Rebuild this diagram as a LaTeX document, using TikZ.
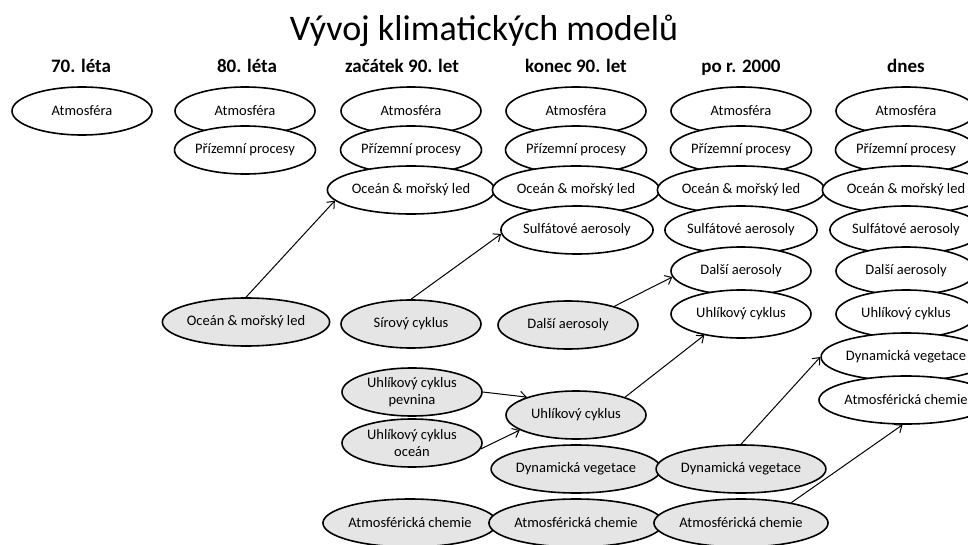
\documentclass[tikz,border=0pt]{standalone}
\usepackage{fontspec}
\setmainfont{Carlito}
\usetikzlibrary{shapes.geometric,arrows.meta}

\begin{document}
\begin{tikzpicture}[x=1pt, y=-1pt,
	model/.style={ellipse, draw, line width=1.6pt, fill=white, minimum width=140pt, minimum height=48pt, inner sep=0pt, align=center, font=\fontsize{14.5}{16.5}\selectfont},
	added/.style={model, fill=black!10},
	era/.style={anchor=base, font=\fontsize{19}{21}\selectfont\bfseries},
	>={Straight Barb[length=6pt,width=10pt]}]
	\clip (0, 0) rectangle (968, 545);

	\node (title) at (484, 31) {\fontsize{36}{40}\selectfont Vývoj klimatických modelů};

	% decades
	\node[era] (h1) at (81, 73) {70. léta};
	\node[era] (h2) at (247, 73) {80. léta};
	\node[era] (h3) at (402, 73) {začátek 90. let};
	\node[era] (h4) at (576, 73) {konec 90. let};
	\node[era] (h5) at (741, 73) {po r. 2000};
	\node[era] (h6) at (906, 73) {dnes};

	% 70. leta
	\node[model] (atm1) at (82, 111) {Atmosféra};

	% 80. leta
	\node[model] (atm2) at (245, 111) {Atmosféra};
	\node[model] (pri2) at (245, 150) {Přízemní procesy};
	\node[added] (oce2) at (246, 322) {Oceán \& mořský led};

	% zacatek 90. let
	\node[model] (atm3) at (411, 111) {Atmosféra};
	\node[model] (pri3) at (411, 150) {Přízemní procesy};
	\node[model] (oce3) at (411, 190) {Oceán \& mořský led};
	\node[added] (sir3) at (411, 324) {Sírový cyklus};
	\node[added] (uhp3) at (412, 392) {Uhlíkový cyklus\\pevnina};
	\node[added] (uho3) at (412, 443) {Uhlíkový cyklus\\oceán};
	\node[added] (che3) at (410, 523) {Atmosférická chemie};

	% konec 90. let
	\node[model] (atm4) at (576, 111) {Atmosféra};
	\node[model] (pri4) at (576, 150) {Přízemní procesy};
	\node[model] (oce4) at (576, 190) {Oceán \& mořský led};
	\node[model] (sul4) at (577, 230) {Sulfátové aerosoly};
	\node[added] (dal4) at (568, 325) {Další aerosoly};
	\node[added] (uhl4) at (576, 415) {Uhlíkový cyklus};
	\node[added] (dyn4) at (576, 469) {Dynamická vegetace};
	\node[added] (che4) at (576, 523) {Atmosférická chemie};

	% po r. 2000
	\node[model] (atm5) at (741, 111) {Atmosféra};
	\node[model] (pri5) at (741, 150) {Přízemní procesy};
	\node[model] (oce5) at (741, 190) {Oceán \& mořský led};
	\node[model] (sul5) at (741, 230) {Sulfátové aerosoly};
	\node[model] (dal5) at (741, 271) {Další aerosoly};
	\node[model] (uhl5) at (741, 314) {Uhlíkový cyklus};
	\node[added] (dyn5) at (741, 469) {Dynamická vegetace};
	\node[added] (che5) at (741, 523) {Atmosférická chemie};

	% dnes
	\node[model] (atm6) at (906, 111) {Atmosféra};
	\node[model] (pri6) at (906, 150) {Přízemní procesy};
	\node[model] (oce6) at (906, 190) {Oceán \& mořský led};
	\node[model] (sul6) at (906, 230) {Sulfátové aerosoly};
	\node[model] (dal6) at (906, 271) {Další aerosoly};
	\node[model] (uhl6) at (906, 314) {Uhlíkový cyklus};
	\node[model] (dyn6) at (906, 357) {Dynamická vegetace};
	\node[model] (che6) at (906, 400) {Atmosférická chemie};

	\draw[->, line width=1pt] (oce2.north) -- (oce3.188);
	\draw[->, line width=1pt] (sir3.north) -- (sul4.183);
	\draw[->, line width=1pt] (dal4.22) -- (dal5.185);
	\draw[->, line width=1pt] (uhp3.east) -- (uhl4.160);
	\draw[->, line width=1pt] (uho3.355) -- (uhl4.195);
	\draw[->, line width=1pt] (uhl4.20) -- (uhl5.210);
	\draw[->, line width=1pt] (dyn5.north) -- (dyn6.west);
	\draw[->, line width=1pt] (che5.22) -- (che6.262);
\end{tikzpicture}
\end{document}
